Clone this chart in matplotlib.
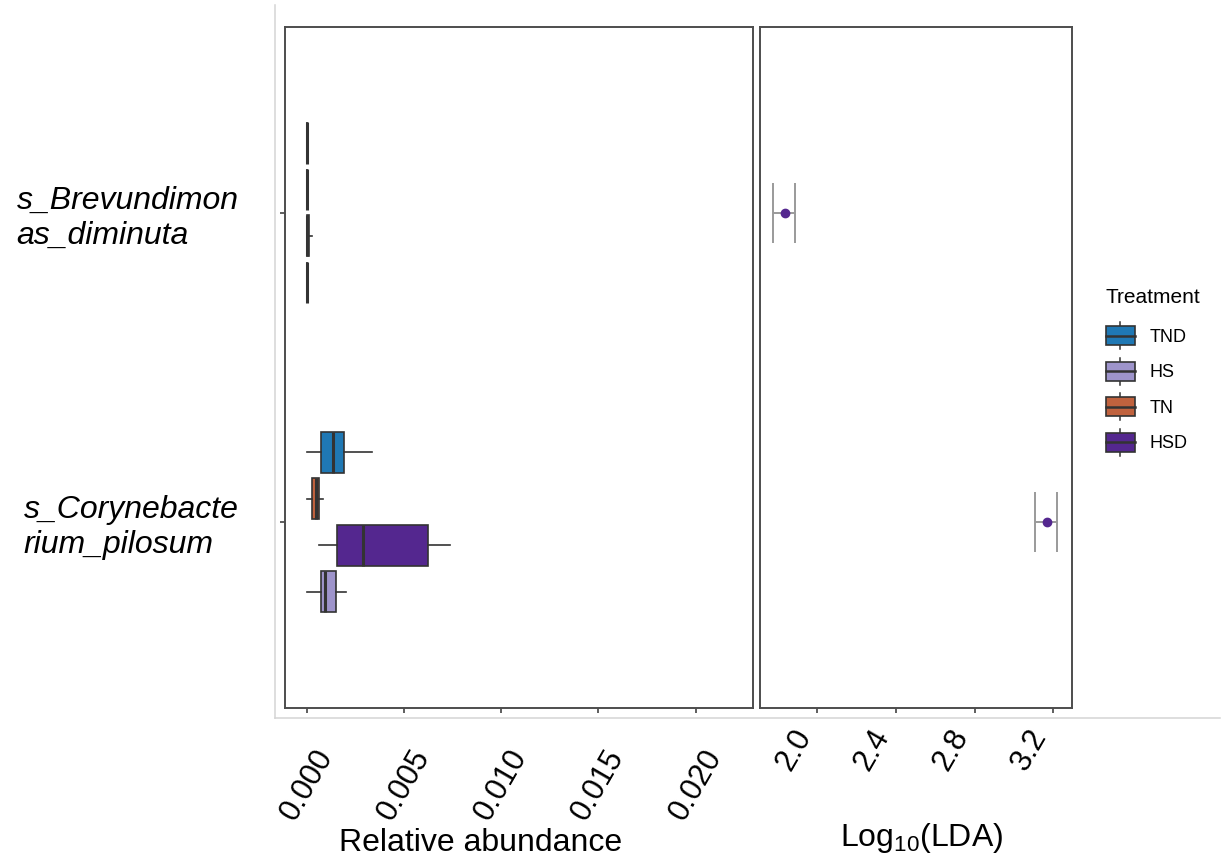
import matplotlib.pyplot as plt
from matplotlib.legend_handler import HandlerBase
from matplotlib.patches import Rectangle, Patch
from matplotlib.lines import Line2D

plt.rcParams['font.family'] = ['Liberation Sans', 'DejaVu Sans']

species = ['s_Corynebacte\nrium_pilosum', 's_Brevundimon\nas_diminuta']
groups = ['TND', 'TN', 'HSD', 'HS']          # dodge order, top to bottom
legend_order = ['TND', 'HS', 'TN', 'HSD']
colors = {'TND': '#1F78B4', 'HS': '#9E94CB', 'TN': '#C0623E', 'HSD': '#54278F'}

# relative abundance summaries: whislo, q1, median, q3, whishi
coryne = {
    'TND': [0.0, 0.00074, 0.00134, 0.00194, 0.00337],
    'TN':  [0.0, 0.00026, 0.00048, 0.00062, 0.00086],
    'HSD': [0.00065, 0.00153, 0.0029, 0.00625, 0.00739],
    'HS':  [0.0, 0.00074, 0.00093, 0.00148, 0.00203],
}
brevund = {
    'TND': [0.0, 0.0, 0.00001, 0.00002, 0.00004],
    'TN':  [0.0, 0.0, 0.00001, 0.00002, 0.00004],
    'HSD': [0.0, 0.0, 0.00003, 0.00012, 0.00026],
    'HS':  [0.0, 0.0, 0.00001, 0.00002, 0.00004],
}

# LDA scores (log10) with lower/upper bounds
lda_mean = [3.170, 1.837]
lda_low = [3.109, 1.775]
lda_high = [3.218, 1.885]

abund_ticks = [0.0, 0.005, 0.010, 0.015, 0.020]
abund_labels = ['0.000', '0.005', '0.010', '0.015', '0.020']
lda_ticks = [2.0, 2.4, 2.8, 3.2]
lda_labels = ['2.0', '2.4', '2.8', '3.2']

W, H = 1223, 860
fig = plt.figure(figsize=(W / 100, H / 100), dpi=100)
ax1 = fig.add_axes([285 / W, 1 - 707.5 / H, 468 / W, 680.5 / H])
ax2 = fig.add_axes([760 / W, 1 - 707.5 / H, 312 / W, 680.5 / H])

dark = '#333333'
for i, stats in enumerate([coryne, brevund]):
    for j, g in enumerate(groups):
        lo, q1, med, q3, hi = stats[g]
        st = dict(whislo=lo, q1=q1, med=med, q3=q3, whishi=hi, fliers=[])
        ax1.bxp([st], positions=[i + 1 + 0.225 - 0.15 * j], widths=0.133,
                orientation='horizontal', patch_artist=True,
                showcaps=False, showfliers=False, manage_ticks=False,
                boxprops=dict(facecolor=colors[g], edgecolor=dark, linewidth=1.2),
                medianprops=dict(color=dark, linewidth=2.2),
                whiskerprops=dict(color=dark, linewidth=1.2))

xerr = [[m - l for m, l in zip(lda_mean, lda_low)],
        [h - m for m, h in zip(lda_mean, lda_high)]]
ax2.errorbar(lda_mean, [1, 2], xerr=xerr, fmt='o', color='#54278F', ms=6,
             ecolor='#9a9a9a', elinewidth=1.4, capsize=21.6, capthick=1.4)

for ax in (ax1, ax2):
    ax.set_ylim(0.4, 2.6)
    for s in ax.spines.values():
        s.set_color('#4d4d4d')
        s.set_linewidth(1.4)
    ax.tick_params(direction='out', length=3.5, width=1.1, color=dark,
                   labelsize=22, labelcolor='black')

ax1.set_xlim(-0.00112, 0.02295)
ax1.set_xticks(abund_ticks)
ax1.set_xticklabels(abund_labels, rotation=60, ha='center')
ax1.tick_params(axis='x', pad=23)
ax1.set_yticks([1, 2])
ax1.set_yticklabels(species, fontsize=23, style='italic', ha='right', ma='left')
ax1.tick_params(axis='y', pad=30)

ax2.set_xlim(1.708, 3.296)
ax2.set_xticks(lda_ticks)
ax2.set_xticklabels(lda_labels, rotation=60, ha='right')
ax2.tick_params(axis='x', pad=8)
ax2.set_yticks([])

fig.text(481 / W, 1 - 851 / H, 'Relative abundance', fontsize=23,
         ha='center', va='baseline')
fig.text(922 / W, 1 - 846 / H, r'Log$_\mathregular{10}$(LDA)', fontsize=23,
         ha='center', va='baseline')

# light outer frame on the left and bottom
fig.add_artist(Line2D([275 / W, 275 / W], [1 - 5 / H, 1 - 718 / H],
                      color='#d4d4d4', lw=1.1, transform=fig.transFigure))
fig.add_artist(Line2D([275 / W, 1220 / W], [1 - 718 / H, 1 - 718 / H],
                      color='#d4d4d4', lw=1.1, transform=fig.transFigure))


class BoxKey(HandlerBase):
    def create_artists(self, legend, orig_handle, xdescent, ydescent,
                       width, height, fontsize, trans):
        x0, y0 = -xdescent, -ydescent
        bh = height * 0.7
        by = y0 + (height - bh) / 2
        cx = x0 + width / 2
        box = Rectangle((x0, by), width, bh, facecolor=orig_handle.get_facecolor(),
                        edgecolor=dark, lw=1.2, transform=trans)
        med = Line2D([x0, x0 + width], [y0 + height / 2] * 2, color=dark,
                     lw=1.8, transform=trans)
        wlo = Line2D([cx, cx], [y0, by], color=dark, lw=1.1, transform=trans)
        whi = Line2D([cx, cx], [by + bh, y0 + height], color=dark, lw=1.1,
                     transform=trans)
        return [wlo, whi, box, med]


handles = [Patch(facecolor=colors[g], edgecolor=dark) for g in legend_order]
leg = fig.legend(handles, legend_order, title='Treatment', loc='upper left',
                 bbox_to_anchor=(1106 / W, 1 - 288 / H), frameon=False,
                 fontsize=13, title_fontsize=15, alignment='left',
                 handler_map={Patch: BoxKey()}, handlelength=1.6,
                 handleheight=1.93, labelspacing=0.47, handletextpad=0.83,
                 borderpad=0, borderaxespad=0)
# a little more room between the title and the first key
leg._legend_box.sep = 11

fig.savefig('out.png', dpi=100)
